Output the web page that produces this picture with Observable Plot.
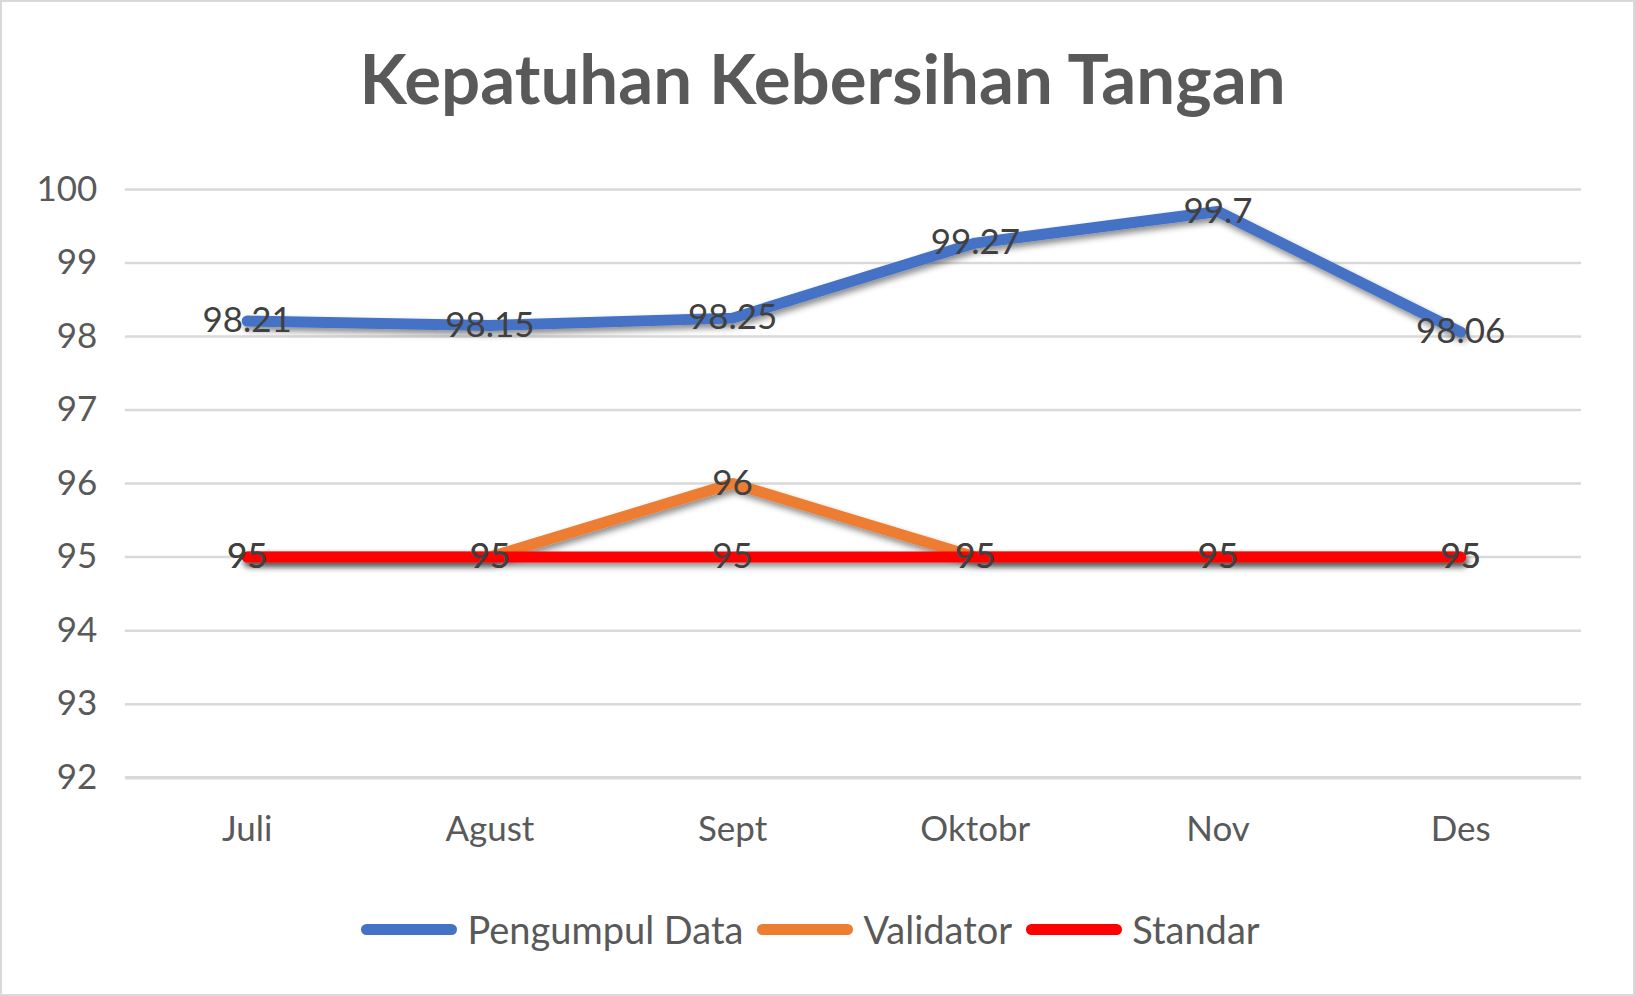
<!DOCTYPE html>
<html><head><meta charset="utf-8">
<script src="https://cdn.jsdelivr.net/npm/d3@7"></script>
<script src="https://cdn.jsdelivr.net/npm/@observablehq/plot@0.6"></script>
<style>
html,body{margin:0;padding:0;background:#fff;}
#chart{position:relative;width:1635px;height:996px;box-sizing:border-box;border:2px solid #d9d9d9;background:#fff;font-family:Lato,sans-serif;overflow:hidden}
#title{position:absolute;left:5px;width:100%;top:41px;text-align:center;font-weight:700;font-size:69px;color:#595959;line-height:1;white-space:nowrap}
#plot{position:absolute;left:-2px;top:138px}
#legend{position:absolute;left:0;width:100%;top:902px;height:50px;display:flex;justify-content:center;align-items:center;font-size:38px;color:#595959}
.sw{display:inline-block;width:96px;height:11px;border-radius:6px;margin-right:10px}
.item{display:flex;align-items:center;margin-right:14px}
</style>
</head><body>
<svg width="0" height="0" style="position:absolute">
  <defs>
    <filter id="shadow" filterUnits="userSpaceOnUse" x="0" y="0" width="1635" height="720">
      <feDropShadow dx="2" dy="4" stdDeviation="3" flood-color="#000" flood-opacity="0.45"/>
    </filter>
  </defs>
</svg>
<div id="chart">
  <div id="title">Kepatuhan Kebersihan Tangan</div>
  <div id="plot"></div>
  <div id="legend"></div>
</div>
<script>
const months = ["Juli", "Agust", "Sept", "Oktobr", "Nov", "Des"];
const seriesNames = ["Pengumpul Data", "Validator", "Standar"];
const pengumpulData = [98.21, 98.15, 98.25, 99.27, 99.7, 98.06];
const validator = [95, 95, 96, 95, 95, 95];
const standar = [95, 95, 95, 95, 95, 95];
const yTicks = [92, 93, 94, 95, 96, 97, 98, 99, 100];
const colors = ["#4472C4", "#ED7D31", "#FF0000"];

const valuesBySeries = [pengumpulData, validator, standar];
const seriesRows = seriesNames.map((s, i) => months.map((m, j) => ({series: s, month: m, value: valuesBySeries[i][j]})));
const rows = seriesRows.flat();

const W = 1635, H = 720;
const chart = Plot.plot({
  width: W,
  height: H,
  marginLeft: 125,
  marginRight: 52,
  marginTop: 49,
  marginBottom: 82,
  style: {fontFamily: "Lato, sans-serif", fontSize: "34px", color: "#595959", background: "transparent", overflow: "visible"},
  x: {type: "point", domain: months, padding: 0.5, label: null},
  y: {domain: [92, 100], label: null},
  marks: [
    Plot.ruleY(yTicks.filter(t => t !== 92), {stroke: "#d9d9d9", strokeWidth: 2.5}),
    Plot.ruleY([92], {stroke: "#d9d9d9", strokeWidth: 3.5}),
    Plot.axisY(yTicks, {tickSize: 0, tickPadding: 28, label: null, fontSize: 35, tickFormat: d => String(d)}),
    Plot.axisX({tickSize: 0, tickPadding: 39, label: null, fontSize: 35}),
    ...seriesRows.map((data, i) => Plot.line(data, {x: "month", y: "value", stroke: colors[i], strokeWidth: 11, strokeLinecap: "round", strokeLinejoin: "round"})),
    Plot.text(rows, {x: "month", y: "value", text: d => String(d.value), fill: "#404040", fontSize: 35})
  ]
});
chart.querySelectorAll('g[aria-label="line"] path').forEach(p => p.setAttribute("filter", "url(#shadow)"));
document.getElementById("plot").appendChild(chart);

const legend = document.getElementById("legend");
seriesNames.forEach((s, i) => {
  const it = document.createElement("div");
  it.className = "item";
  const sw = document.createElement("span");
  sw.className = "sw";
  sw.style.background = colors[i];
  it.appendChild(sw);
  it.appendChild(document.createTextNode(s));
  legend.appendChild(it);
});
</script>
</body></html>
